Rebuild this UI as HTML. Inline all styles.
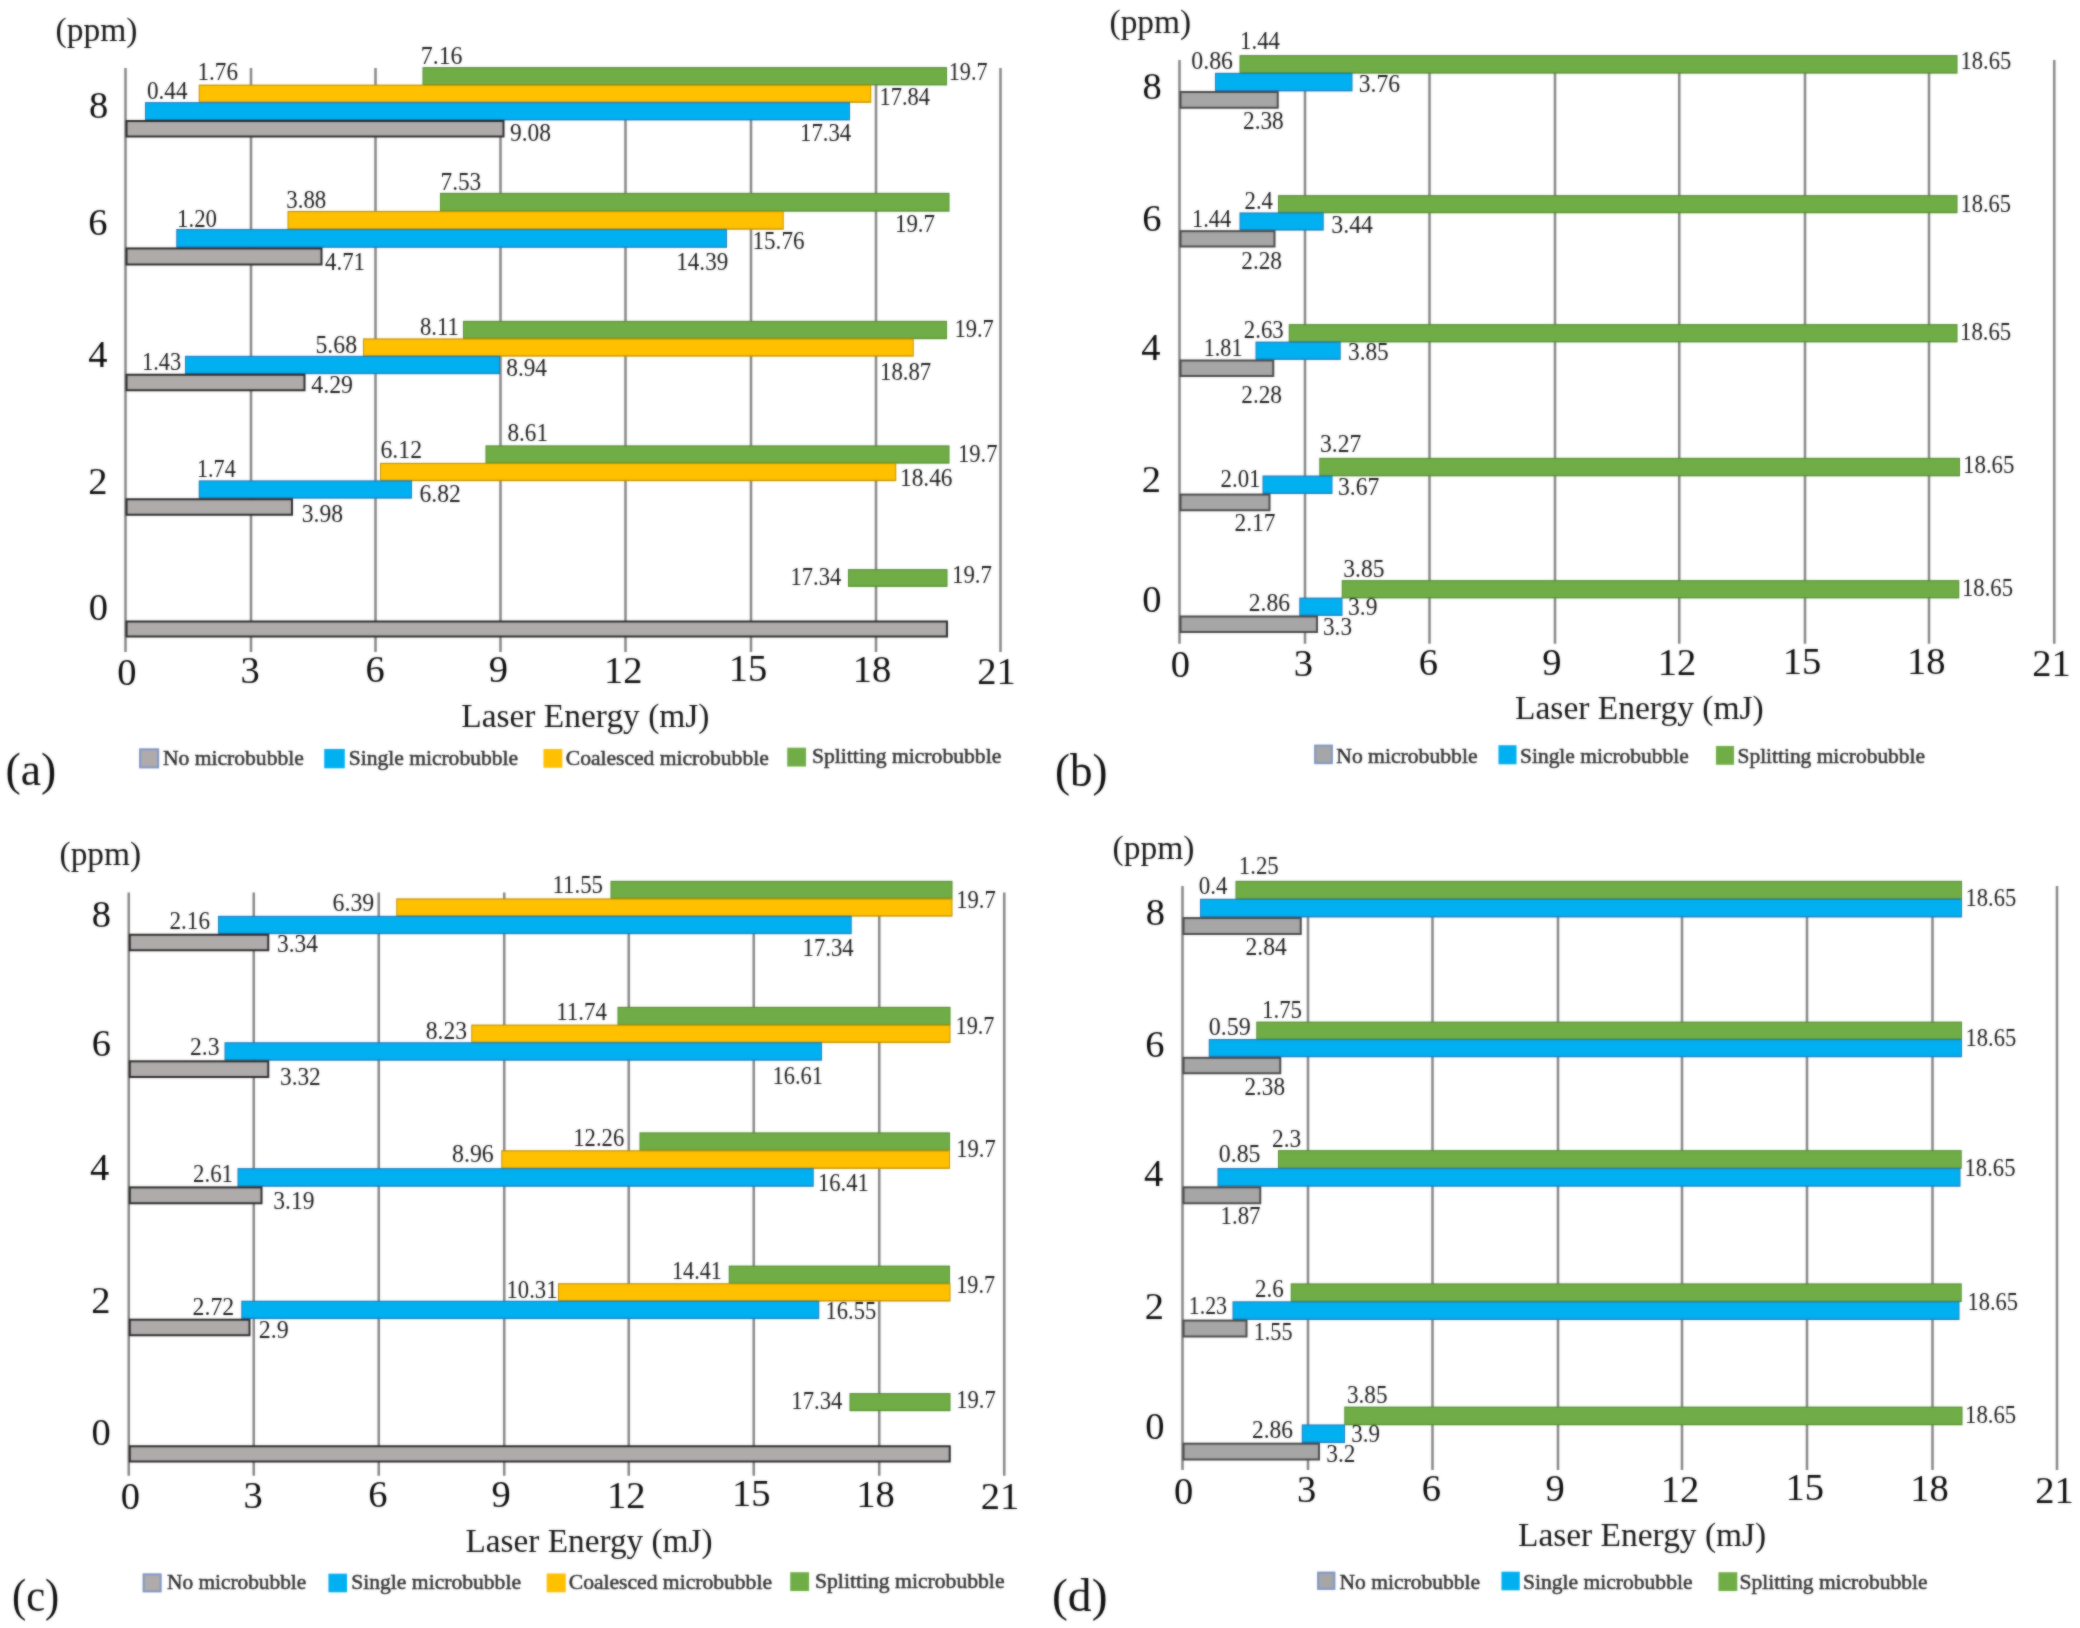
<!DOCTYPE html>
<html><head><meta charset="utf-8"><title>Figure</title>
<style>
html,body{margin:0;padding:0;background:#fff;}
svg{display:block;font-family:"Liberation Serif",serif;}
</style></head><body>
<svg width="2080" height="1628" viewBox="0 0 2080 1628">
<defs><filter id="soft" color-interpolation-filters="sRGB" x="0" y="0" width="2080" height="1628" filterUnits="userSpaceOnUse"><feGaussianBlur stdDeviation="0.8" result="b"/><feComposite in="SourceGraphic" in2="b" operator="arithmetic" k1="0" k2="0.45" k3="0.55" k4="0"/></filter></defs>
<rect width="2080" height="1628" fill="#ffffff"/>
<g filter="url(#soft)">
<rect x="124.25" y="68.00" width="2.50" height="584.00" fill="#878787"/>
<rect x="249.75" y="68.00" width="2.50" height="584.00" fill="#878787"/>
<rect x="374.25" y="68.00" width="2.50" height="584.00" fill="#878787"/>
<rect x="499.25" y="68.00" width="2.50" height="584.00" fill="#878787"/>
<rect x="624.25" y="68.00" width="2.50" height="584.00" fill="#878787"/>
<rect x="749.75" y="68.00" width="2.50" height="584.00" fill="#878787"/>
<rect x="874.75" y="68.00" width="2.50" height="584.00" fill="#878787"/>
<rect x="999.25" y="68.00" width="2.50" height="584.00" fill="#878787"/>
<rect x="422.50" y="67.10" width="524.50" height="18.30" fill="#55902f"/>
<rect x="423.50" y="68.30" width="522.50" height="15.70" fill="#70AD47"/>
<rect x="198.75" y="84.60" width="672.50" height="18.30" fill="#c49300"/>
<rect x="199.75" y="85.80" width="670.50" height="15.70" fill="#FFC000"/>
<rect x="145.00" y="102.10" width="705.00" height="18.30" fill="#1f7cc0"/>
<rect x="146.00" y="103.30" width="703.00" height="15.70" fill="#00B0F0"/>
<rect x="126.50" y="121.00" width="377.00" height="15.50" fill="#AFABAB" stroke="#2c2c2c" stroke-width="2"/>
<rect x="440.00" y="192.85" width="509.50" height="18.86" fill="#55902f"/>
<rect x="441.00" y="194.05" width="507.50" height="16.26" fill="#70AD47"/>
<rect x="287.50" y="210.91" width="496.25" height="18.86" fill="#c49300"/>
<rect x="288.50" y="212.11" width="494.25" height="16.26" fill="#FFC000"/>
<rect x="176.25" y="228.97" width="550.75" height="18.86" fill="#1f7cc0"/>
<rect x="177.25" y="230.18" width="548.75" height="16.26" fill="#00B0F0"/>
<rect x="126.50" y="248.44" width="195.00" height="16.06" fill="#AFABAB" stroke="#2c2c2c" stroke-width="2"/>
<rect x="463.00" y="320.85" width="484.00" height="18.30" fill="#55902f"/>
<rect x="464.00" y="322.05" width="482.00" height="15.70" fill="#70AD47"/>
<rect x="363.00" y="338.35" width="550.75" height="18.30" fill="#c49300"/>
<rect x="364.00" y="339.55" width="548.75" height="15.70" fill="#FFC000"/>
<rect x="185.00" y="355.85" width="315.00" height="18.30" fill="#1f7cc0"/>
<rect x="186.00" y="357.05" width="313.00" height="15.70" fill="#00B0F0"/>
<rect x="126.50" y="374.75" width="178.00" height="15.50" fill="#AFABAB" stroke="#2c2c2c" stroke-width="2"/>
<rect x="485.50" y="445.35" width="464.00" height="18.30" fill="#55902f"/>
<rect x="486.50" y="446.55" width="462.00" height="15.70" fill="#70AD47"/>
<rect x="380.00" y="462.85" width="516.25" height="18.30" fill="#c49300"/>
<rect x="381.00" y="464.05" width="514.25" height="15.70" fill="#FFC000"/>
<rect x="198.75" y="480.35" width="213.25" height="18.30" fill="#1f7cc0"/>
<rect x="199.75" y="481.55" width="211.25" height="15.70" fill="#00B0F0"/>
<rect x="126.50" y="499.25" width="165.50" height="15.50" fill="#AFABAB" stroke="#2c2c2c" stroke-width="2"/>
<rect x="848.00" y="569.10" width="99.50" height="17.80" fill="#55902f"/>
<rect x="849.00" y="570.30" width="97.50" height="15.20" fill="#70AD47"/>
<rect x="126.50" y="621.50" width="820.50" height="15.00" fill="#AFABAB" stroke="#2c2c2c" stroke-width="2"/>
<text x="420.75" y="63.60" font-size="25.5" text-anchor="start" fill="#1c1c1c" textLength="41.77" lengthAdjust="spacingAndGlyphs">7.16</text>
<text x="197.50" y="79.60" font-size="25.5" text-anchor="start" fill="#1c1c1c" textLength="40.52" lengthAdjust="spacingAndGlyphs">1.76</text>
<text x="147.00" y="99.10" font-size="25.5" text-anchor="start" fill="#1c1c1c" textLength="40.52" lengthAdjust="spacingAndGlyphs">0.44</text>
<text x="510.00" y="141.10" font-size="25.5" text-anchor="start" fill="#1c1c1c" textLength="41.02" lengthAdjust="spacingAndGlyphs">9.08</text>
<text x="948.75" y="80.35" font-size="25.5" text-anchor="start" fill="#1c1c1c" textLength="38.77" lengthAdjust="spacingAndGlyphs">19.7</text>
<text x="879.50" y="105.35" font-size="25.5" text-anchor="start" fill="#1c1c1c" textLength="50.48" lengthAdjust="spacingAndGlyphs">17.84</text>
<text x="800.00" y="141.10" font-size="25.5" text-anchor="start" fill="#1c1c1c" textLength="51.23" lengthAdjust="spacingAndGlyphs">17.34</text>
<text x="440.50" y="190.35" font-size="25.5" text-anchor="start" fill="#1c1c1c" textLength="40.77" lengthAdjust="spacingAndGlyphs">7.53</text>
<text x="286.25" y="207.85" font-size="25.5" text-anchor="start" fill="#1c1c1c" textLength="40.02" lengthAdjust="spacingAndGlyphs">3.88</text>
<text x="177.00" y="226.60" font-size="25.5" text-anchor="start" fill="#1c1c1c" textLength="40.02" lengthAdjust="spacingAndGlyphs">1.20</text>
<text x="325.00" y="270.35" font-size="25.5" text-anchor="start" fill="#1c1c1c" textLength="40.02" lengthAdjust="spacingAndGlyphs">4.71</text>
<text x="895.00" y="232.10" font-size="25.5" text-anchor="start" fill="#1c1c1c" textLength="40.02" lengthAdjust="spacingAndGlyphs">19.7</text>
<text x="752.50" y="249.10" font-size="25.5" text-anchor="start" fill="#1c1c1c" textLength="51.98" lengthAdjust="spacingAndGlyphs">15.76</text>
<text x="676.25" y="270.35" font-size="25.5" text-anchor="start" fill="#1c1c1c" textLength="51.98" lengthAdjust="spacingAndGlyphs">14.39</text>
<text x="420.00" y="335.35" font-size="25.5" text-anchor="start" fill="#1c1c1c" textLength="38.73" lengthAdjust="spacingAndGlyphs">8.11</text>
<text x="315.50" y="352.85" font-size="25.5" text-anchor="start" fill="#1c1c1c" textLength="41.52" lengthAdjust="spacingAndGlyphs">5.68</text>
<text x="142.00" y="370.35" font-size="25.5" text-anchor="start" fill="#1c1c1c" textLength="39.27" lengthAdjust="spacingAndGlyphs">1.43</text>
<text x="311.25" y="392.85" font-size="25.5" text-anchor="start" fill="#1c1c1c" textLength="41.77" lengthAdjust="spacingAndGlyphs">4.29</text>
<text x="506.25" y="376.10" font-size="25.5" text-anchor="start" fill="#1c1c1c" textLength="40.77" lengthAdjust="spacingAndGlyphs">8.94</text>
<text x="954.50" y="336.60" font-size="25.5" text-anchor="start" fill="#1c1c1c" textLength="39.27" lengthAdjust="spacingAndGlyphs">19.7</text>
<text x="880.00" y="380.35" font-size="25.5" text-anchor="start" fill="#1c1c1c" textLength="51.23" lengthAdjust="spacingAndGlyphs">18.87</text>
<text x="507.50" y="441.10" font-size="25.5" text-anchor="start" fill="#1c1c1c" textLength="40.52" lengthAdjust="spacingAndGlyphs">8.61</text>
<text x="380.50" y="458.35" font-size="25.5" text-anchor="start" fill="#1c1c1c" textLength="41.52" lengthAdjust="spacingAndGlyphs">6.12</text>
<text x="197.00" y="476.60" font-size="25.5" text-anchor="start" fill="#1c1c1c" textLength="38.77" lengthAdjust="spacingAndGlyphs">1.74</text>
<text x="419.50" y="502.10" font-size="25.5" text-anchor="start" fill="#1c1c1c" textLength="41.27" lengthAdjust="spacingAndGlyphs">6.82</text>
<text x="301.75" y="522.10" font-size="25.5" text-anchor="start" fill="#1c1c1c" textLength="41.27" lengthAdjust="spacingAndGlyphs">3.98</text>
<text x="958.00" y="462.10" font-size="25.5" text-anchor="start" fill="#1c1c1c" textLength="39.52" lengthAdjust="spacingAndGlyphs">19.7</text>
<text x="900.00" y="486.10" font-size="25.5" text-anchor="start" fill="#1c1c1c" textLength="52.48" lengthAdjust="spacingAndGlyphs">18.46</text>
<text x="790.50" y="584.60" font-size="25.5" text-anchor="start" fill="#1c1c1c" textLength="50.73" lengthAdjust="spacingAndGlyphs">17.34</text>
<text x="952.00" y="582.85" font-size="25.5" text-anchor="start" fill="#1c1c1c" textLength="40.02" lengthAdjust="spacingAndGlyphs">19.7</text>
<text x="89.10" y="117.50" font-size="38.5" text-anchor="start" fill="#0d0d0d">8</text>
<text x="88.35" y="235.00" font-size="38.5" text-anchor="start" fill="#0d0d0d">6</text>
<text x="88.35" y="367.00" font-size="38.5" text-anchor="start" fill="#0d0d0d">4</text>
<text x="88.35" y="493.75" font-size="38.5" text-anchor="start" fill="#0d0d0d">2</text>
<text x="88.85" y="620.00" font-size="38.5" text-anchor="start" fill="#0d0d0d">0</text>
<text x="117.35" y="684.70" font-size="38.5" text-anchor="start" fill="#0d0d0d">0</text>
<text x="240.55" y="683.10" font-size="38.5" text-anchor="start" fill="#0d0d0d">3</text>
<text x="365.45" y="682.20" font-size="38.5" text-anchor="start" fill="#0d0d0d">6</text>
<text x="488.75" y="682.20" font-size="38.5" text-anchor="start" fill="#0d0d0d">9</text>
<text x="604.05" y="682.70" font-size="38.5" text-anchor="start" fill="#0d0d0d">12</text>
<text x="728.75" y="681.00" font-size="38.5" text-anchor="start" fill="#0d0d0d">15</text>
<text x="852.75" y="681.70" font-size="38.5" text-anchor="start" fill="#0d0d0d">18</text>
<text x="977.35" y="683.90" font-size="38.5" text-anchor="start" fill="#0d0d0d">21</text>
<text x="55.50" y="40.50" font-size="33.5" text-anchor="start" fill="#161616" textLength="81.97" lengthAdjust="spacingAndGlyphs">(ppm)</text>
<text x="461.25" y="726.60" font-size="33.5" text-anchor="start" fill="#161616" textLength="248.23" lengthAdjust="spacingAndGlyphs">Laser Energy (mJ)</text>
<rect x="140.10" y="749.35" width="18.05" height="18.05" fill="#AFABAB" stroke="#7f96c4" stroke-width="2"/>
<text x="163.00" y="764.85" font-size="21.5" text-anchor="start" fill="#333" textLength="140.77" lengthAdjust="spacingAndGlyphs" stroke="#333" stroke-width="0.5">No microbubble</text>
<rect x="324.20" y="748.95" width="20.60" height="19.35" fill="#00B0F0"/>
<text x="348.75" y="764.85" font-size="21.5" text-anchor="start" fill="#333" textLength="169.24" lengthAdjust="spacingAndGlyphs" stroke="#333" stroke-width="0.5">Single microbubble</text>
<rect x="543.45" y="748.95" width="18.85" height="18.85" fill="#FFC000"/>
<text x="565.75" y="764.85" font-size="21.5" text-anchor="start" fill="#333" textLength="202.99" lengthAdjust="spacingAndGlyphs" stroke="#333" stroke-width="0.5">Coalesced microbubble</text>
<rect x="787.20" y="747.70" width="18.85" height="18.85" fill="#70AD47"/>
<text x="812.00" y="763.10" font-size="21.5" text-anchor="start" fill="#333" textLength="189.26" lengthAdjust="spacingAndGlyphs" stroke="#333" stroke-width="0.5">Splitting microbubble</text>
<text x="5.50" y="785.00" font-size="47" text-anchor="start" fill="#111" textLength="50.72" lengthAdjust="spacingAndGlyphs">(a)</text>
<rect x="1178.25" y="60.00" width="2.50" height="583.75" fill="#878787"/>
<rect x="1303.75" y="60.00" width="2.50" height="583.75" fill="#878787"/>
<rect x="1428.25" y="60.00" width="2.50" height="583.75" fill="#878787"/>
<rect x="1553.75" y="60.00" width="2.50" height="583.75" fill="#878787"/>
<rect x="1678.00" y="60.00" width="2.50" height="583.75" fill="#878787"/>
<rect x="1803.75" y="60.00" width="2.50" height="583.75" fill="#878787"/>
<rect x="1927.75" y="60.00" width="2.50" height="583.75" fill="#878787"/>
<rect x="2053.00" y="60.00" width="2.50" height="583.75" fill="#878787"/>
<rect x="1239.50" y="55.10" width="718.00" height="18.55" fill="#55902f"/>
<rect x="1240.50" y="56.30" width="716.00" height="15.95" fill="#70AD47"/>
<rect x="1215.00" y="72.85" width="137.50" height="18.55" fill="#1f7cc0"/>
<rect x="1216.00" y="74.05" width="135.50" height="15.95" fill="#00B0F0"/>
<rect x="1180.50" y="92.00" width="97.25" height="15.75" fill="#A6A6A6" stroke="#4a4a4a" stroke-width="2"/>
<rect x="1278.00" y="195.10" width="679.50" height="18.13" fill="#55902f"/>
<rect x="1279.00" y="196.30" width="677.50" height="15.53" fill="#70AD47"/>
<rect x="1239.50" y="212.43" width="84.25" height="18.13" fill="#1f7cc0"/>
<rect x="1240.50" y="213.63" width="82.25" height="15.53" fill="#00B0F0"/>
<rect x="1180.50" y="231.17" width="94.00" height="15.33" fill="#A6A6A6" stroke="#4a4a4a" stroke-width="2"/>
<rect x="1288.75" y="324.10" width="668.75" height="18.30" fill="#55902f"/>
<rect x="1289.75" y="325.30" width="666.75" height="15.70" fill="#70AD47"/>
<rect x="1255.50" y="341.60" width="85.25" height="18.30" fill="#1f7cc0"/>
<rect x="1256.50" y="342.80" width="83.25" height="15.70" fill="#00B0F0"/>
<rect x="1180.50" y="360.50" width="92.75" height="15.50" fill="#A6A6A6" stroke="#4a4a4a" stroke-width="2"/>
<rect x="1319.25" y="457.85" width="640.75" height="18.47" fill="#55902f"/>
<rect x="1320.25" y="459.05" width="638.75" height="15.87" fill="#70AD47"/>
<rect x="1262.50" y="475.52" width="70.00" height="18.47" fill="#1f7cc0"/>
<rect x="1263.50" y="476.72" width="68.00" height="15.87" fill="#00B0F0"/>
<rect x="1180.50" y="494.58" width="89.00" height="15.67" fill="#A6A6A6" stroke="#4a4a4a" stroke-width="2"/>
<rect x="1341.75" y="580.10" width="617.50" height="18.30" fill="#55902f"/>
<rect x="1342.75" y="581.30" width="615.50" height="15.70" fill="#70AD47"/>
<rect x="1299.25" y="597.60" width="43.25" height="18.30" fill="#1f7cc0"/>
<rect x="1300.25" y="598.80" width="41.25" height="15.70" fill="#00B0F0"/>
<rect x="1180.50" y="616.50" width="136.50" height="15.50" fill="#A6A6A6" stroke="#4a4a4a" stroke-width="2"/>
<text x="1240.00" y="49.10" font-size="25.5" text-anchor="start" fill="#1c1c1c" textLength="40.02" lengthAdjust="spacingAndGlyphs">1.44</text>
<text x="1191.25" y="68.60" font-size="25.5" text-anchor="start" fill="#1c1c1c" textLength="41.77" lengthAdjust="spacingAndGlyphs">0.86</text>
<text x="1358.75" y="92.35" font-size="25.5" text-anchor="start" fill="#1c1c1c" textLength="41.27" lengthAdjust="spacingAndGlyphs">3.76</text>
<text x="1243.00" y="129.10" font-size="25.5" text-anchor="start" fill="#1c1c1c" textLength="40.77" lengthAdjust="spacingAndGlyphs">2.38</text>
<text x="1244.50" y="208.60" font-size="25.5" text-anchor="start" fill="#1c1c1c" textLength="28.48" lengthAdjust="spacingAndGlyphs">2.4</text>
<text x="1192.00" y="227.10" font-size="25.5" text-anchor="start" fill="#1c1c1c" textLength="39.27" lengthAdjust="spacingAndGlyphs">1.44</text>
<text x="1331.25" y="232.85" font-size="25.5" text-anchor="start" fill="#1c1c1c" textLength="41.77" lengthAdjust="spacingAndGlyphs">3.44</text>
<text x="1241.25" y="268.60" font-size="25.5" text-anchor="start" fill="#1c1c1c" textLength="40.77" lengthAdjust="spacingAndGlyphs">2.28</text>
<text x="1960.50" y="69.10" font-size="25.5" text-anchor="start" fill="#1c1c1c" textLength="50.73" lengthAdjust="spacingAndGlyphs">18.65</text>
<text x="1960.50" y="211.60" font-size="25.5" text-anchor="start" fill="#1c1c1c" textLength="50.48" lengthAdjust="spacingAndGlyphs">18.65</text>
<text x="1243.75" y="337.85" font-size="25.5" text-anchor="start" fill="#1c1c1c" textLength="40.02" lengthAdjust="spacingAndGlyphs">2.63</text>
<text x="1203.75" y="355.85" font-size="25.5" text-anchor="start" fill="#1c1c1c" textLength="38.77" lengthAdjust="spacingAndGlyphs">1.81</text>
<text x="1348.00" y="360.35" font-size="25.5" text-anchor="start" fill="#1c1c1c" textLength="40.77" lengthAdjust="spacingAndGlyphs">3.85</text>
<text x="1241.25" y="402.85" font-size="25.5" text-anchor="start" fill="#1c1c1c" textLength="40.77" lengthAdjust="spacingAndGlyphs">2.28</text>
<text x="1320.00" y="452.10" font-size="25.5" text-anchor="start" fill="#1c1c1c" textLength="41.27" lengthAdjust="spacingAndGlyphs">3.27</text>
<text x="1220.50" y="486.60" font-size="25.5" text-anchor="start" fill="#1c1c1c" textLength="40.02" lengthAdjust="spacingAndGlyphs">2.01</text>
<text x="1338.00" y="494.85" font-size="25.5" text-anchor="start" fill="#1c1c1c" textLength="41.27" lengthAdjust="spacingAndGlyphs">3.67</text>
<text x="1960.00" y="339.60" font-size="25.5" text-anchor="start" fill="#1c1c1c" textLength="51.23" lengthAdjust="spacingAndGlyphs">18.65</text>
<text x="1963.00" y="472.85" font-size="25.5" text-anchor="start" fill="#1c1c1c" textLength="51.48" lengthAdjust="spacingAndGlyphs">18.65</text>
<text x="1234.50" y="531.10" font-size="25.5" text-anchor="start" fill="#1c1c1c" textLength="41.02" lengthAdjust="spacingAndGlyphs">2.17</text>
<text x="1343.25" y="576.60" font-size="25.5" text-anchor="start" fill="#1c1c1c" textLength="41.27" lengthAdjust="spacingAndGlyphs">3.85</text>
<text x="1248.75" y="610.85" font-size="25.5" text-anchor="start" fill="#1c1c1c" textLength="41.27" lengthAdjust="spacingAndGlyphs">2.86</text>
<text x="1348.00" y="614.85" font-size="25.5" text-anchor="start" fill="#1c1c1c" textLength="29.48" lengthAdjust="spacingAndGlyphs">3.9</text>
<text x="1323.00" y="635.35" font-size="25.5" text-anchor="start" fill="#1c1c1c" textLength="28.98" lengthAdjust="spacingAndGlyphs">3.3</text>
<text x="1962.00" y="596.10" font-size="25.5" text-anchor="start" fill="#1c1c1c" textLength="50.98" lengthAdjust="spacingAndGlyphs">18.65</text>
<text x="1142.60" y="98.75" font-size="38.5" text-anchor="start" fill="#0d0d0d">8</text>
<text x="1142.35" y="230.50" font-size="38.5" text-anchor="start" fill="#0d0d0d">6</text>
<text x="1141.35" y="359.50" font-size="38.5" text-anchor="start" fill="#0d0d0d">4</text>
<text x="1141.85" y="492.00" font-size="38.5" text-anchor="start" fill="#0d0d0d">2</text>
<text x="1142.35" y="612.00" font-size="38.5" text-anchor="start" fill="#0d0d0d">0</text>
<text x="1170.85" y="676.80" font-size="38.5" text-anchor="start" fill="#0d0d0d">0</text>
<text x="1293.85" y="675.60" font-size="38.5" text-anchor="start" fill="#0d0d0d">3</text>
<text x="1418.65" y="674.70" font-size="38.5" text-anchor="start" fill="#0d0d0d">6</text>
<text x="1542.25" y="674.70" font-size="38.5" text-anchor="start" fill="#0d0d0d">9</text>
<text x="1657.85" y="675.10" font-size="38.5" text-anchor="start" fill="#0d0d0d">12</text>
<text x="1782.75" y="673.90" font-size="38.5" text-anchor="start" fill="#0d0d0d">15</text>
<text x="1906.95" y="674.40" font-size="38.5" text-anchor="start" fill="#0d0d0d">18</text>
<text x="2032.15" y="676.10" font-size="38.5" text-anchor="start" fill="#0d0d0d">21</text>
<text x="1109.50" y="32.50" font-size="33.5" text-anchor="start" fill="#161616" textLength="81.72" lengthAdjust="spacingAndGlyphs">(ppm)</text>
<text x="1515.00" y="719.10" font-size="33.5" text-anchor="start" fill="#161616" textLength="248.73" lengthAdjust="spacingAndGlyphs">Laser Energy (mJ)</text>
<rect x="1315.10" y="745.60" width="16.80" height="17.55" fill="#A6A6A6" stroke="#7f96c4" stroke-width="2"/>
<text x="1336.25" y="763.10" font-size="21.5" text-anchor="start" fill="#333" textLength="141.27" lengthAdjust="spacingAndGlyphs" stroke="#333" stroke-width="0.5">No microbubble</text>
<rect x="1498.45" y="745.20" width="18.10" height="19.10" fill="#00B0F0"/>
<text x="1520.00" y="763.10" font-size="21.5" text-anchor="start" fill="#333" textLength="168.74" lengthAdjust="spacingAndGlyphs" stroke="#333" stroke-width="0.5">Single microbubble</text>
<rect x="1715.95" y="745.95" width="18.10" height="18.85" fill="#70AD47"/>
<text x="1737.50" y="763.10" font-size="21.5" text-anchor="start" fill="#333" textLength="187.51" lengthAdjust="spacingAndGlyphs" stroke="#333" stroke-width="0.5">Splitting microbubble</text>
<text x="1055.00" y="785.50" font-size="47" text-anchor="start" fill="#111" textLength="52.50" lengthAdjust="spacingAndGlyphs">(b)</text>
<rect x="127.50" y="892.50" width="2.50" height="583.25" fill="#878787"/>
<rect x="252.50" y="892.50" width="2.50" height="583.25" fill="#878787"/>
<rect x="377.50" y="892.50" width="2.50" height="583.25" fill="#878787"/>
<rect x="503.00" y="892.50" width="2.50" height="583.25" fill="#878787"/>
<rect x="627.50" y="892.50" width="2.50" height="583.25" fill="#878787"/>
<rect x="752.50" y="892.50" width="2.50" height="583.25" fill="#878787"/>
<rect x="878.00" y="892.50" width="2.50" height="583.25" fill="#878787"/>
<rect x="1003.00" y="892.50" width="2.50" height="583.25" fill="#878787"/>
<rect x="610.50" y="880.85" width="342.00" height="18.30" fill="#55902f"/>
<rect x="611.50" y="882.05" width="340.00" height="15.70" fill="#70AD47"/>
<rect x="396.25" y="898.35" width="556.25" height="18.30" fill="#c49300"/>
<rect x="397.25" y="899.55" width="554.25" height="15.70" fill="#FFC000"/>
<rect x="218.00" y="915.85" width="633.75" height="18.30" fill="#1f7cc0"/>
<rect x="219.00" y="917.05" width="631.75" height="15.70" fill="#00B0F0"/>
<rect x="129.75" y="934.75" width="138.50" height="15.50" fill="#AFABAB" stroke="#2c2c2c" stroke-width="2"/>
<rect x="617.50" y="1006.85" width="333.00" height="18.49" fill="#55902f"/>
<rect x="618.50" y="1008.05" width="331.00" height="15.89" fill="#70AD47"/>
<rect x="471.25" y="1024.54" width="479.25" height="18.49" fill="#c49300"/>
<rect x="472.25" y="1025.74" width="477.25" height="15.89" fill="#FFC000"/>
<rect x="224.50" y="1042.22" width="597.50" height="18.49" fill="#1f7cc0"/>
<rect x="225.50" y="1043.42" width="595.50" height="15.89" fill="#00B0F0"/>
<rect x="129.75" y="1061.31" width="138.50" height="15.69" fill="#AFABAB" stroke="#2c2c2c" stroke-width="2"/>
<rect x="639.50" y="1132.35" width="310.50" height="18.68" fill="#55902f"/>
<rect x="640.50" y="1133.55" width="308.50" height="16.08" fill="#70AD47"/>
<rect x="501.25" y="1150.22" width="448.75" height="18.68" fill="#c49300"/>
<rect x="502.25" y="1151.42" width="446.75" height="16.08" fill="#FFC000"/>
<rect x="237.50" y="1168.10" width="576.25" height="18.68" fill="#1f7cc0"/>
<rect x="238.50" y="1169.30" width="574.25" height="16.08" fill="#00B0F0"/>
<rect x="129.75" y="1187.38" width="131.75" height="15.88" fill="#AFABAB" stroke="#2c2c2c" stroke-width="2"/>
<rect x="728.75" y="1265.60" width="221.25" height="18.36" fill="#55902f"/>
<rect x="729.75" y="1266.80" width="219.25" height="15.76" fill="#70AD47"/>
<rect x="558.00" y="1283.16" width="392.50" height="18.36" fill="#c49300"/>
<rect x="559.00" y="1284.36" width="390.50" height="15.76" fill="#FFC000"/>
<rect x="241.25" y="1300.72" width="578.00" height="18.36" fill="#1f7cc0"/>
<rect x="242.25" y="1301.92" width="576.00" height="15.76" fill="#00B0F0"/>
<rect x="129.75" y="1319.69" width="119.75" height="15.56" fill="#AFABAB" stroke="#2c2c2c" stroke-width="2"/>
<rect x="849.50" y="1393.10" width="101.00" height="18.05" fill="#55902f"/>
<rect x="850.50" y="1394.30" width="99.00" height="15.45" fill="#70AD47"/>
<rect x="129.75" y="1446.25" width="820.00" height="15.25" fill="#AFABAB" stroke="#2c2c2c" stroke-width="2"/>
<text x="332.50" y="911.10" font-size="25.5" text-anchor="start" fill="#1c1c1c" textLength="41.77" lengthAdjust="spacingAndGlyphs">6.39</text>
<text x="169.50" y="929.10" font-size="25.5" text-anchor="start" fill="#1c1c1c" textLength="40.52" lengthAdjust="spacingAndGlyphs">2.16</text>
<text x="277.00" y="951.60" font-size="25.5" text-anchor="start" fill="#1c1c1c" textLength="41.02" lengthAdjust="spacingAndGlyphs">3.34</text>
<text x="425.75" y="1039.10" font-size="25.5" text-anchor="start" fill="#1c1c1c" textLength="41.27" lengthAdjust="spacingAndGlyphs">8.23</text>
<text x="190.00" y="1055.35" font-size="25.5" text-anchor="start" fill="#1c1c1c" textLength="29.48" lengthAdjust="spacingAndGlyphs">2.3</text>
<text x="280.00" y="1084.60" font-size="25.5" text-anchor="start" fill="#1c1c1c" textLength="40.77" lengthAdjust="spacingAndGlyphs">3.32</text>
<text x="552.50" y="893.35" font-size="25.5" text-anchor="start" fill="#1c1c1c" textLength="50.53" lengthAdjust="spacingAndGlyphs">11.55</text>
<text x="956.25" y="907.85" font-size="25.5" text-anchor="start" fill="#1c1c1c" textLength="39.52" lengthAdjust="spacingAndGlyphs">19.7</text>
<text x="802.50" y="956.10" font-size="25.5" text-anchor="start" fill="#1c1c1c" textLength="51.23" lengthAdjust="spacingAndGlyphs">17.34</text>
<text x="556.25" y="1020.35" font-size="25.5" text-anchor="start" fill="#1c1c1c" textLength="50.78" lengthAdjust="spacingAndGlyphs">11.74</text>
<text x="955.50" y="1034.10" font-size="25.5" text-anchor="start" fill="#1c1c1c" textLength="39.02" lengthAdjust="spacingAndGlyphs">19.7</text>
<text x="772.50" y="1083.60" font-size="25.5" text-anchor="start" fill="#1c1c1c" textLength="50.48" lengthAdjust="spacingAndGlyphs">16.61</text>
<text x="452.00" y="1162.35" font-size="25.5" text-anchor="start" fill="#1c1c1c" textLength="41.77" lengthAdjust="spacingAndGlyphs">8.96</text>
<text x="193.00" y="1181.60" font-size="25.5" text-anchor="start" fill="#1c1c1c" textLength="40.02" lengthAdjust="spacingAndGlyphs">2.61</text>
<text x="273.25" y="1209.10" font-size="25.5" text-anchor="start" fill="#1c1c1c" textLength="41.27" lengthAdjust="spacingAndGlyphs">3.19</text>
<text x="192.50" y="1315.35" font-size="25.5" text-anchor="start" fill="#1c1c1c" textLength="41.77" lengthAdjust="spacingAndGlyphs">2.72</text>
<text x="258.75" y="1337.85" font-size="25.5" text-anchor="start" fill="#1c1c1c" textLength="29.98" lengthAdjust="spacingAndGlyphs">2.9</text>
<text x="506.50" y="1297.85" font-size="25.5" text-anchor="start" fill="#1c1c1c" textLength="50.98" lengthAdjust="spacingAndGlyphs">10.31</text>
<text x="573.25" y="1146.10" font-size="25.5" text-anchor="start" fill="#1c1c1c" textLength="50.98" lengthAdjust="spacingAndGlyphs">12.26</text>
<text x="956.25" y="1156.60" font-size="25.5" text-anchor="start" fill="#1c1c1c" textLength="39.52" lengthAdjust="spacingAndGlyphs">19.7</text>
<text x="818.00" y="1190.85" font-size="25.5" text-anchor="start" fill="#1c1c1c" textLength="50.73" lengthAdjust="spacingAndGlyphs">16.41</text>
<text x="672.00" y="1279.10" font-size="25.5" text-anchor="start" fill="#1c1c1c" textLength="49.98" lengthAdjust="spacingAndGlyphs">14.41</text>
<text x="956.25" y="1292.85" font-size="25.5" text-anchor="start" fill="#1c1c1c" textLength="38.77" lengthAdjust="spacingAndGlyphs">19.7</text>
<text x="825.50" y="1319.10" font-size="25.5" text-anchor="start" fill="#1c1c1c" textLength="50.73" lengthAdjust="spacingAndGlyphs">16.55</text>
<text x="791.25" y="1408.60" font-size="25.5" text-anchor="start" fill="#1c1c1c" textLength="51.23" lengthAdjust="spacingAndGlyphs">17.34</text>
<text x="956.25" y="1407.85" font-size="25.5" text-anchor="start" fill="#1c1c1c" textLength="39.52" lengthAdjust="spacingAndGlyphs">19.7</text>
<text x="91.85" y="927.00" font-size="38.5" text-anchor="start" fill="#0d0d0d">8</text>
<text x="91.85" y="1056.25" font-size="38.5" text-anchor="start" fill="#0d0d0d">6</text>
<text x="89.95" y="1180.00" font-size="38.5" text-anchor="start" fill="#0d0d0d">4</text>
<text x="91.35" y="1313.00" font-size="38.5" text-anchor="start" fill="#0d0d0d">2</text>
<text x="91.60" y="1444.50" font-size="38.5" text-anchor="start" fill="#0d0d0d">0</text>
<text x="120.65" y="1509.40" font-size="38.5" text-anchor="start" fill="#0d0d0d">0</text>
<text x="243.45" y="1508.10" font-size="38.5" text-anchor="start" fill="#0d0d0d">3</text>
<text x="368.25" y="1507.20" font-size="38.5" text-anchor="start" fill="#0d0d0d">6</text>
<text x="491.45" y="1507.20" font-size="38.5" text-anchor="start" fill="#0d0d0d">9</text>
<text x="607.05" y="1507.50" font-size="38.5" text-anchor="start" fill="#0d0d0d">12</text>
<text x="731.95" y="1506.00" font-size="38.5" text-anchor="start" fill="#0d0d0d">15</text>
<text x="856.15" y="1506.70" font-size="38.5" text-anchor="start" fill="#0d0d0d">18</text>
<text x="980.85" y="1508.90" font-size="38.5" text-anchor="start" fill="#0d0d0d">21</text>
<text x="59.50" y="865.00" font-size="33.5" text-anchor="start" fill="#161616" textLength="81.72" lengthAdjust="spacingAndGlyphs">(ppm)</text>
<text x="465.50" y="1551.60" font-size="33.5" text-anchor="start" fill="#161616" textLength="246.98" lengthAdjust="spacingAndGlyphs">Laser Energy (mJ)</text>
<rect x="143.60" y="1574.35" width="17.05" height="17.05" fill="#AFABAB" stroke="#7f96c4" stroke-width="2"/>
<text x="167.00" y="1589.35" font-size="21.5" text-anchor="start" fill="#333" textLength="139.27" lengthAdjust="spacingAndGlyphs" stroke="#333" stroke-width="0.5">No microbubble</text>
<rect x="328.45" y="1573.70" width="18.60" height="18.60" fill="#00B0F0"/>
<text x="351.25" y="1589.35" font-size="21.5" text-anchor="start" fill="#333" textLength="169.74" lengthAdjust="spacingAndGlyphs" stroke="#333" stroke-width="0.5">Single microbubble</text>
<rect x="546.70" y="1573.45" width="19.10" height="18.85" fill="#FFC000"/>
<text x="568.75" y="1589.35" font-size="21.5" text-anchor="start" fill="#333" textLength="203.24" lengthAdjust="spacingAndGlyphs" stroke="#333" stroke-width="0.5">Coalesced microbubble</text>
<rect x="790.20" y="1572.20" width="18.85" height="18.85" fill="#70AD47"/>
<text x="815.00" y="1587.60" font-size="21.5" text-anchor="start" fill="#333" textLength="189.51" lengthAdjust="spacingAndGlyphs" stroke="#333" stroke-width="0.5">Splitting microbubble</text>
<text x="12.00" y="1611.25" font-size="47" text-anchor="start" fill="#111" textLength="47.22" lengthAdjust="spacingAndGlyphs">(c)</text>
<rect x="1181.25" y="886.00" width="2.50" height="584.00" fill="#878787"/>
<rect x="1306.75" y="886.00" width="2.50" height="584.00" fill="#878787"/>
<rect x="1431.25" y="886.00" width="2.50" height="584.00" fill="#878787"/>
<rect x="1556.75" y="886.00" width="2.50" height="584.00" fill="#878787"/>
<rect x="1680.75" y="886.00" width="2.50" height="584.00" fill="#878787"/>
<rect x="1805.75" y="886.00" width="2.50" height="584.00" fill="#878787"/>
<rect x="1931.25" y="886.00" width="2.50" height="584.00" fill="#878787"/>
<rect x="2055.75" y="886.00" width="2.50" height="584.00" fill="#878787"/>
<rect x="1235.50" y="880.85" width="726.50" height="18.72" fill="#55902f"/>
<rect x="1236.50" y="882.05" width="724.50" height="16.12" fill="#70AD47"/>
<rect x="1200.00" y="898.77" width="762.00" height="18.72" fill="#1f7cc0"/>
<rect x="1201.00" y="899.97" width="760.00" height="16.12" fill="#00B0F0"/>
<rect x="1183.50" y="918.08" width="117.25" height="15.92" fill="#A6A6A6" stroke="#4a4a4a" stroke-width="2"/>
<rect x="1256.25" y="1021.60" width="705.75" height="18.22" fill="#55902f"/>
<rect x="1257.25" y="1022.80" width="703.75" height="15.62" fill="#70AD47"/>
<rect x="1208.75" y="1039.02" width="753.25" height="18.22" fill="#1f7cc0"/>
<rect x="1209.75" y="1040.22" width="751.25" height="15.62" fill="#00B0F0"/>
<rect x="1183.50" y="1057.83" width="96.75" height="15.42" fill="#A6A6A6" stroke="#4a4a4a" stroke-width="2"/>
<rect x="1278.00" y="1150.10" width="683.75" height="18.72" fill="#55902f"/>
<rect x="1279.00" y="1151.30" width="681.75" height="16.12" fill="#70AD47"/>
<rect x="1217.50" y="1168.02" width="743.00" height="18.72" fill="#1f7cc0"/>
<rect x="1218.50" y="1169.22" width="741.00" height="16.12" fill="#00B0F0"/>
<rect x="1183.50" y="1187.33" width="76.75" height="15.92" fill="#A6A6A6" stroke="#4a4a4a" stroke-width="2"/>
<rect x="1290.75" y="1283.35" width="671.00" height="18.72" fill="#55902f"/>
<rect x="1291.75" y="1284.55" width="669.00" height="16.12" fill="#70AD47"/>
<rect x="1232.50" y="1301.27" width="727.00" height="18.72" fill="#1f7cc0"/>
<rect x="1233.50" y="1302.47" width="725.00" height="16.12" fill="#00B0F0"/>
<rect x="1183.50" y="1320.58" width="63.00" height="15.92" fill="#A6A6A6" stroke="#4a4a4a" stroke-width="2"/>
<rect x="1344.25" y="1406.60" width="618.25" height="18.63" fill="#55902f"/>
<rect x="1345.25" y="1407.80" width="616.25" height="16.03" fill="#70AD47"/>
<rect x="1301.75" y="1424.43" width="43.25" height="18.63" fill="#1f7cc0"/>
<rect x="1302.75" y="1425.63" width="41.25" height="16.03" fill="#00B0F0"/>
<rect x="1183.50" y="1443.67" width="135.50" height="15.83" fill="#A6A6A6" stroke="#4a4a4a" stroke-width="2"/>
<text x="1238.75" y="873.60" font-size="25.5" text-anchor="start" fill="#1c1c1c" textLength="40.02" lengthAdjust="spacingAndGlyphs">1.25</text>
<text x="1198.75" y="893.60" font-size="25.5" text-anchor="start" fill="#1c1c1c" textLength="28.73" lengthAdjust="spacingAndGlyphs">0.4</text>
<text x="1245.50" y="954.60" font-size="25.5" text-anchor="start" fill="#1c1c1c" textLength="41.27" lengthAdjust="spacingAndGlyphs">2.84</text>
<text x="1262.00" y="1018.35" font-size="25.5" text-anchor="start" fill="#1c1c1c" textLength="40.02" lengthAdjust="spacingAndGlyphs">1.75</text>
<text x="1208.75" y="1034.60" font-size="25.5" text-anchor="start" fill="#1c1c1c" textLength="42.02" lengthAdjust="spacingAndGlyphs">0.59</text>
<text x="1244.50" y="1095.35" font-size="25.5" text-anchor="start" fill="#1c1c1c" textLength="40.52" lengthAdjust="spacingAndGlyphs">2.38</text>
<text x="1965.50" y="906.10" font-size="25.5" text-anchor="start" fill="#1c1c1c" textLength="50.73" lengthAdjust="spacingAndGlyphs">18.65</text>
<text x="1965.50" y="1045.85" font-size="25.5" text-anchor="start" fill="#1c1c1c" textLength="50.73" lengthAdjust="spacingAndGlyphs">18.65</text>
<text x="1272.00" y="1146.60" font-size="25.5" text-anchor="start" fill="#1c1c1c" textLength="29.23" lengthAdjust="spacingAndGlyphs">2.3</text>
<text x="1218.75" y="1162.10" font-size="25.5" text-anchor="start" fill="#1c1c1c" textLength="41.77" lengthAdjust="spacingAndGlyphs">0.85</text>
<text x="1220.50" y="1224.10" font-size="25.5" text-anchor="start" fill="#1c1c1c" textLength="40.02" lengthAdjust="spacingAndGlyphs">1.87</text>
<text x="1255.00" y="1297.10" font-size="25.5" text-anchor="start" fill="#1c1c1c" textLength="28.73" lengthAdjust="spacingAndGlyphs">2.6</text>
<text x="1188.75" y="1314.10" font-size="25.5" text-anchor="start" fill="#1c1c1c" textLength="38.27" lengthAdjust="spacingAndGlyphs">1.23</text>
<text x="1253.75" y="1340.35" font-size="25.5" text-anchor="start" fill="#1c1c1c" textLength="38.77" lengthAdjust="spacingAndGlyphs">1.55</text>
<text x="1964.50" y="1176.10" font-size="25.5" text-anchor="start" fill="#1c1c1c" textLength="50.98" lengthAdjust="spacingAndGlyphs">18.65</text>
<text x="1967.50" y="1310.35" font-size="25.5" text-anchor="start" fill="#1c1c1c" textLength="50.48" lengthAdjust="spacingAndGlyphs">18.65</text>
<text x="1347.00" y="1402.85" font-size="25.5" text-anchor="start" fill="#1c1c1c" textLength="40.52" lengthAdjust="spacingAndGlyphs">3.85</text>
<text x="1252.00" y="1437.85" font-size="25.5" text-anchor="start" fill="#1c1c1c" textLength="41.02" lengthAdjust="spacingAndGlyphs">2.86</text>
<text x="1351.25" y="1441.60" font-size="25.5" text-anchor="start" fill="#1c1c1c" textLength="28.73" lengthAdjust="spacingAndGlyphs">3.9</text>
<text x="1326.25" y="1461.60" font-size="25.5" text-anchor="start" fill="#1c1c1c" textLength="29.23" lengthAdjust="spacingAndGlyphs">3.2</text>
<text x="1965.00" y="1422.85" font-size="25.5" text-anchor="start" fill="#1c1c1c" textLength="51.23" lengthAdjust="spacingAndGlyphs">18.65</text>
<text x="1145.75" y="924.50" font-size="38.5" text-anchor="start" fill="#0d0d0d">8</text>
<text x="1145.35" y="1057.00" font-size="38.5" text-anchor="start" fill="#0d0d0d">6</text>
<text x="1144.10" y="1186.25" font-size="38.5" text-anchor="start" fill="#0d0d0d">4</text>
<text x="1144.85" y="1318.75" font-size="38.5" text-anchor="start" fill="#0d0d0d">2</text>
<text x="1145.35" y="1438.75" font-size="38.5" text-anchor="start" fill="#0d0d0d">0</text>
<text x="1173.95" y="1503.60" font-size="38.5" text-anchor="start" fill="#0d0d0d">0</text>
<text x="1297.05" y="1502.40" font-size="38.5" text-anchor="start" fill="#0d0d0d">3</text>
<text x="1421.75" y="1501.40" font-size="38.5" text-anchor="start" fill="#0d0d0d">6</text>
<text x="1545.45" y="1501.10" font-size="38.5" text-anchor="start" fill="#0d0d0d">9</text>
<text x="1660.65" y="1501.90" font-size="38.5" text-anchor="start" fill="#0d0d0d">12</text>
<text x="1785.55" y="1500.20" font-size="38.5" text-anchor="start" fill="#0d0d0d">15</text>
<text x="1910.15" y="1501.10" font-size="38.5" text-anchor="start" fill="#0d0d0d">18</text>
<text x="2035.35" y="1502.70" font-size="38.5" text-anchor="start" fill="#0d0d0d">21</text>
<text x="1112.50" y="858.75" font-size="33.5" text-anchor="start" fill="#161616" textLength="81.97" lengthAdjust="spacingAndGlyphs">(ppm)</text>
<text x="1518.00" y="1545.85" font-size="33.5" text-anchor="start" fill="#161616" textLength="248.23" lengthAdjust="spacingAndGlyphs">Laser Energy (mJ)</text>
<rect x="1318.10" y="1572.60" width="16.30" height="16.30" fill="#A6A6A6" stroke="#7f96c4" stroke-width="2"/>
<text x="1339.50" y="1588.85" font-size="21.5" text-anchor="start" fill="#333" textLength="140.52" lengthAdjust="spacingAndGlyphs" stroke="#333" stroke-width="0.5">No microbubble</text>
<rect x="1501.45" y="1571.70" width="18.35" height="18.60" fill="#00B0F0"/>
<text x="1523.00" y="1588.85" font-size="21.5" text-anchor="start" fill="#333" textLength="169.49" lengthAdjust="spacingAndGlyphs" stroke="#333" stroke-width="0.5">Single microbubble</text>
<rect x="1718.45" y="1572.20" width="18.85" height="18.85" fill="#70AD47"/>
<text x="1739.50" y="1588.85" font-size="21.5" text-anchor="start" fill="#333" textLength="188.01" lengthAdjust="spacingAndGlyphs" stroke="#333" stroke-width="0.5">Splitting microbubble</text>
<text x="1052.00" y="1611.25" font-size="47" text-anchor="start" fill="#111" textLength="55.50" lengthAdjust="spacingAndGlyphs">(d)</text>
</g>
</svg>
</body></html>
